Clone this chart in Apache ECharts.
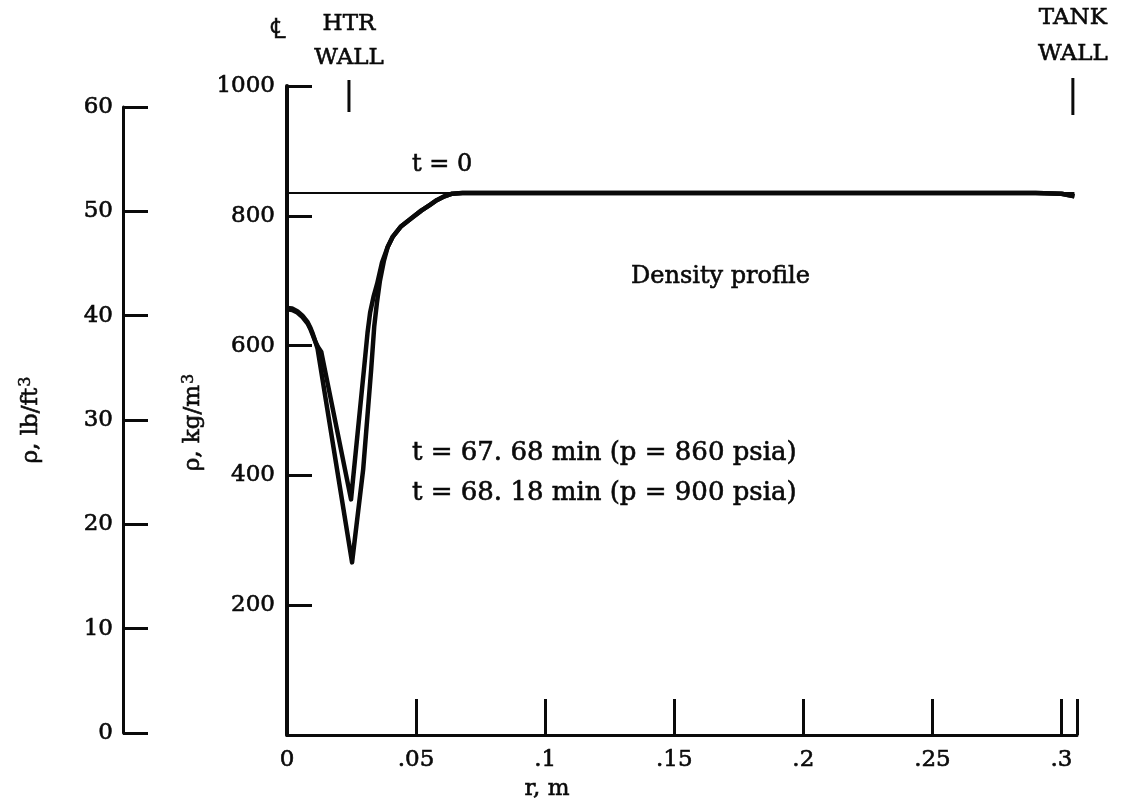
<!DOCTYPE html>
<html><head><meta charset="utf-8">
<script src="https://cdn.jsdelivr.net/npm/echarts@6/dist/echarts.min.js"></script>
<style>html,body{margin:0;padding:0;background:#fff}#c{width:1122px;height:812px}</style>
</head><body><div id="c"></div>
<script>
// ---- data ----
const rTicks = [0, 0.05, 0.1, 0.15, 0.2, 0.25, 0.3];
const rTickLabels = ['0', '.05', '.1', '.15', '.2', '.25', '.3'];
const kgTicks = [200, 400, 600, 800, 1000];
const kgTickLabels = ['200', '400', '600', '800', '1000'];
const lbTicks = [0, 10, 20, 30, 40, 50, 60];
const lbTickLabels = ['0', '10', '20', '30', '40', '50', '60'];

// t = 0 initial density (kg/m^3)
const profileT0 = [[0, 835], [0.305, 835]];
// t = 67.68 min (p = 860 psia)
const profile6768 = [
  [0, 656], [0.002, 655], [0.004, 651], [0.006, 644], [0.008, 634], [0.009, 626], [0.010, 616],
  [0.011, 606], [0.012, 598], [0.0133, 590],
  [0.0248, 363], [0.0298, 563], [0.0312, 620], [0.0322, 651], [0.0335, 675], [0.0349, 695],
  [0.0368, 728], [0.039, 752], [0.041, 768], [0.044, 783], [0.0488, 798], [0.052, 808],
  [0.0554, 817], [0.058, 824], [0.061, 830], [0.064, 834], [0.068, 835],
  [0.1, 835], [0.2, 835], [0.29, 835], [0.300, 834], [0.305, 830]
];
// t = 68.18 min (p = 900 psia)
const profile6818 = [
  [0, 658], [0.002, 657], [0.004, 653], [0.006, 646], [0.008, 636], [0.009, 628], [0.010, 618],
  [0.011, 606], [0.0118, 596],
  [0.0252, 266], [0.0295, 409], [0.0326, 563], [0.0338, 630], [0.0348, 665], [0.036, 700],
  [0.0375, 730], [0.039, 752], [0.041, 768], [0.044, 783], [0.0488, 798], [0.052, 808],
  [0.0554, 817], [0.058, 824], [0.061, 830], [0.064, 834], [0.068, 835],
  [0.1, 835], [0.2, 835], [0.29, 835], [0.300, 834], [0.305, 830]
];
const htrWallR = 0.024;
const tankWallR = 0.3044;

// ---- chart ----
const FONT = 'DejaVu Serif';
const INK = '#0a0a0a';
const chart = echarts.init(document.getElementById('c'), null, {renderer: 'canvas'});

function labelFrom(ticks, labels) {
  return function (v) {
    const i = ticks.findIndex(t => Math.abs(t - v) < 1e-9);
    return i >= 0 ? labels[i] : '';
  };
}
const heavy = {textBorderColor: INK, textBorderWidth: 0.6};
const supRich = {sup: {fontFamily: FONT, fontSize: 16, color: INK, verticalAlign: 'top', padding: [0, 0, 10, 1], textBorderColor: INK, textBorderWidth: 0.5}};

const option = {
  animation: false,
  backgroundColor: '#fff',
  grid: [
    {left: 287, top: 86, width: 790, height: 649},
    {left: 123, top: 107, width: 30, height: 626}
  ],
  xAxis: [
    {
      type: 'value', gridIndex: 0, min: 0, max: 0.306, interval: 0.05,
      name: 'r, m', nameLocation: 'middle', nameGap: 40,
      nameTextStyle: Object.assign({fontFamily: FONT, fontSize: 23, color: INK, padding: [0, 270, 0, 0]}, heavy),
      axisLine: {show: true, lineStyle: {color: INK, width: 3}},
      axisTick: {show: true, inside: true, length: 36, lineStyle: {color: INK, width: 3}},
      axisLabel: Object.assign({fontFamily: FONT, fontSize: 23, color: INK, margin: 14, formatter: labelFrom(rTicks, rTickLabels)}, heavy),
      splitLine: {show: false}
    },
    {type: 'value', gridIndex: 1, min: 0, max: 1, show: false}
  ],
  yAxis: [
    {
      type: 'value', gridIndex: 0, min: 0, max: 1000, interval: 200,
      name: 'ρ, kg/m{sup|3}', nameLocation: 'middle', nameGap: 62, nameRotate: 90,
      nameTextStyle: Object.assign({fontFamily: FONT, fontSize: 23, color: INK, padding: [0, 24, 0, 0], rich: supRich}, heavy),
      axisLine: {show: true, lineStyle: {color: INK, width: 4}},
      axisTick: {show: true, inside: true, length: 25, lineStyle: {color: INK, width: 3}},
      axisLabel: Object.assign({fontFamily: FONT, fontSize: 23, color: INK, margin: 12, formatter: labelFrom(kgTicks, kgTickLabels)}, heavy),
      splitLine: {show: false}
    },
    {
      type: 'value', gridIndex: 1, min: 0, max: 60, interval: 10,
      name: 'ρ, lb/ft{sup|3}', nameLocation: 'middle', nameGap: 79, nameRotate: 90,
      nameTextStyle: Object.assign({fontFamily: FONT, fontSize: 23, color: INK, rich: supRich}, heavy),
      axisLine: {show: true, lineStyle: {color: INK, width: 3}},
      axisTick: {show: true, inside: true, length: 25, lineStyle: {color: INK, width: 3}},
      axisLabel: Object.assign({fontFamily: FONT, fontSize: 23, color: INK, margin: 10, formatter: labelFrom(lbTicks, lbTickLabels)}, heavy),
      splitLine: {show: false}
    }
  ],
  series: [
    {name: 't = 0', type: 'line', xAxisIndex: 0, yAxisIndex: 0, data: profileT0, symbol: 'none',
     lineStyle: {color: INK, width: 2}},
    {name: 't = 67. 68 min (p = 860 psia)', type: 'line', xAxisIndex: 0, yAxisIndex: 0, data: profile6768,
     symbol: 'none', lineStyle: {color: INK, width: 4.5, join: 'round'}},
    {name: 't = 68. 18 min (p = 900 psia)', type: 'line', xAxisIndex: 0, yAxisIndex: 0, data: profile6818,
     symbol: 'none', lineStyle: {color: INK, width: 4.5, join: 'round'}}
  ]
};
chart.setOption(option);

// annotations
const pHtr = chart.convertToPixel({gridIndex: 0}, [htrWallR, 1000]);
const pTank = chart.convertToPixel({gridIndex: 0}, [tankWallR, 1000]);
const p0 = chart.convertToPixel({gridIndex: 0}, [0, 1000]);
const txt = (text, x, y, size, align) => ({
  type: 'text', x: x, y: y,
  style: {text: text, fontFamily: FONT, fontSize: size, fill: INK, align: align || 'left', verticalAlign: 'middle',
          stroke: INK, lineWidth: 0.6}
});
chart.setOption({
  graphic: [
    txt('℄', p0[0] - 9, 31, 28, 'center'),
    txt('HTR', pHtr[0], 24, 23, 'center'),
    txt('WALL', pHtr[0], 58, 23, 'center'),
    {type: 'line', shape: {x1: pHtr[0], y1: pHtr[1] - 6, x2: pHtr[0], y2: pHtr[1] + 26}, style: {stroke: INK, lineWidth: 3}},
    txt('TANK', pTank[0], 18, 23, 'center'),
    txt('WALL', pTank[0], 54, 23, 'center'),
    {type: 'line', shape: {x1: pTank[0], y1: pTank[1] - 8, x2: pTank[0], y2: pTank[1] + 29}, style: {stroke: INK, lineWidth: 3}},
    txt('t = 0', 412, 165, 24),
    txt('Density profile', 631, 277, 24),
    txt('t = 67. 68 min (p = 860 psia)', 412, 453, 26),
    txt('t = 68. 18 min (p = 900 psia)', 412, 493, 26)
  ]
});
</script>
</body></html>
